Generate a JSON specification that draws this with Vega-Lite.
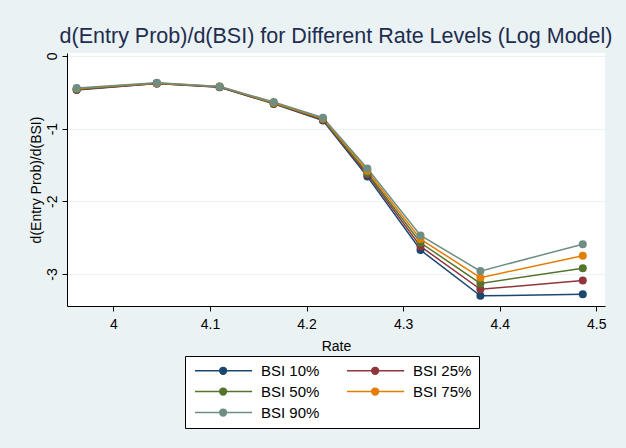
{
  "$schema": "https://vega.github.io/schema/vega-lite/v6.json",
  "autosize": {"type": "none"},
  "width": 538,
  "height": 253,
  "padding": {"left": 67, "top": 53, "right": 21, "bottom": 142},
  "background": "#EAF2F3",
  "title": {
    "text": "d(Entry Prob)/d(BSI) for Different Rate Levels (Log Model)",
    "anchor": "middle",
    "fontSize": 21.5,
    "font": "Liberation Sans",
    "fontWeight": "normal",
    "color": "#1E2D4F",
    "offset": 5
  },
  "config": {
    "view": {"stroke": null, "fill": "white"},
    "font": "Liberation Sans"
  },
  "data": {
    "values": [
      {"rate": 3.962, "series": "BSI 10%", "v": -0.47},
      {"rate": 4.045, "series": "BSI 10%", "v": -0.38},
      {"rate": 4.110, "series": "BSI 10%", "v": -0.43},
      {"rate": 4.166, "series": "BSI 10%", "v": -0.66},
      {"rate": 4.217, "series": "BSI 10%", "v": -0.89},
      {"rate": 4.263, "series": "BSI 10%", "v": -1.66},
      {"rate": 4.318, "series": "BSI 10%", "v": -2.67},
      {"rate": 4.380, "series": "BSI 10%", "v": -3.30},
      {"rate": 4.486, "series": "BSI 10%", "v": -3.28},
      {"rate": 3.962, "series": "BSI 25%", "v": -0.463},
      {"rate": 4.045, "series": "BSI 25%", "v": -0.378},
      {"rate": 4.110, "series": "BSI 25%", "v": -0.428},
      {"rate": 4.166, "series": "BSI 25%", "v": -0.655},
      {"rate": 4.217, "series": "BSI 25%", "v": -0.88},
      {"rate": 4.263, "series": "BSI 25%", "v": -1.63},
      {"rate": 4.318, "series": "BSI 25%", "v": -2.62},
      {"rate": 4.380, "series": "BSI 25%", "v": -3.21},
      {"rate": 4.486, "series": "BSI 25%", "v": -3.09},
      {"rate": 3.962, "series": "BSI 50%", "v": -0.457},
      {"rate": 4.045, "series": "BSI 50%", "v": -0.375},
      {"rate": 4.110, "series": "BSI 50%", "v": -0.425},
      {"rate": 4.166, "series": "BSI 50%", "v": -0.65},
      {"rate": 4.217, "series": "BSI 50%", "v": -0.87},
      {"rate": 4.263, "series": "BSI 50%", "v": -1.61},
      {"rate": 4.318, "series": "BSI 50%", "v": -2.57},
      {"rate": 4.380, "series": "BSI 50%", "v": -3.13},
      {"rate": 4.486, "series": "BSI 50%", "v": -2.92},
      {"rate": 3.962, "series": "BSI 75%", "v": -0.45},
      {"rate": 4.045, "series": "BSI 75%", "v": -0.372},
      {"rate": 4.110, "series": "BSI 75%", "v": -0.422},
      {"rate": 4.166, "series": "BSI 75%", "v": -0.645},
      {"rate": 4.217, "series": "BSI 75%", "v": -0.86},
      {"rate": 4.263, "series": "BSI 75%", "v": -1.58},
      {"rate": 4.318, "series": "BSI 75%", "v": -2.52},
      {"rate": 4.380, "series": "BSI 75%", "v": -3.05},
      {"rate": 4.486, "series": "BSI 75%", "v": -2.75},
      {"rate": 3.962, "series": "BSI 90%", "v": -0.44},
      {"rate": 4.045, "series": "BSI 90%", "v": -0.368},
      {"rate": 4.110, "series": "BSI 90%", "v": -0.42},
      {"rate": 4.166, "series": "BSI 90%", "v": -0.635},
      {"rate": 4.217, "series": "BSI 90%", "v": -0.85},
      {"rate": 4.263, "series": "BSI 90%", "v": -1.55},
      {"rate": 4.318, "series": "BSI 90%", "v": -2.47},
      {"rate": 4.380, "series": "BSI 90%", "v": -2.96},
      {"rate": 4.486, "series": "BSI 90%", "v": -2.59}
    ]
  },
  "encoding": {
    "x": {
      "field": "rate", "type": "quantitative",
      "scale": {"domain": [3.952, 4.509], "nice": false, "zero": false},
      "axis": {
        "title": "Rate", "values": [4, 4.1, 4.2, 4.3, 4.4, 4.5], "format": "~g",
        "grid": false, "domainColor": "black", "tickColor": "black",
        "tickSize": 5, "labelFontSize": 14, "titleFontSize": 14,
        "labelColor": "black", "titleColor": "black", "titleFontWeight": "normal",
        "labelPadding": 6, "titlePadding": 8, "labelFlush": false
      }
    },
    "y": {
      "field": "v", "type": "quantitative",
      "scale": {"domain": [-3.44, 0.04], "nice": false, "zero": false},
      "axis": {
        "title": "d(Entry Prob)/d(BSI)", "values": [0, -1, -2, -3],
        "labelExpr": "datum.value < 0 ? '-' + abs(datum.value) : '' + datum.value",
        "grid": true, "gridColor": "#EAF2F3", "gridWidth": 1,
        "domainColor": "black", "tickColor": "black", "tickSize": 5,
        "labelAngle": -90, "labelAlign": "center", "labelBaseline": "bottom",
        "labelFontSize": 14, "titleFontSize": 14, "labelColor": "black",
        "titleColor": "black", "titleFontWeight": "normal",
        "labelPadding": 3, "titlePadding": 2
      }
    },
    "color": {
      "field": "series", "type": "nominal",
      "scale": {
        "domain": ["BSI 10%", "BSI 25%", "BSI 50%", "BSI 75%", "BSI 90%"],
        "range": ["#1A476F", "#90353B", "#55752F", "#E37E00", "#6E8E84"]
      },
      "legend": {
        "title": null,
        "orient": "none",
        "legendX": 118,
        "legendY": 303,
        "direction": "horizontal",
        "columns": 2,
        "strokeColor": "black",
        "fillColor": "white",
        "padding": 7,
        "symbolType": "M-1,0H11.7M6.0,0A0.75,0.75,0,1,1,4.5,0A0.75,0.75,0,1,1,6.0,0Z",
        "symbolSize": 81,
        "symbolStrokeWidth": 1.5,
        "labelOffset": 54,
        "labelFontSize": 15,
        "labelColor": "black",
        "rowPadding": 5,
        "columnPadding": 24,
        "encode": {
          "symbols": {
            "update": {
              "fill": {"scale": "color", "field": "value"},
              "stroke": {"scale": "color", "field": "value"},
              "opacity": {"value": 1}
            }
          }
        }
      }
    },
    "order": {"field": "series"}
  },
  "layer": [
    {"mark": {"type": "line", "strokeWidth": 1.5}},
    {"mark": {"type": "point", "filled": true, "size": 64, "opacity": 1}}
  ]
}
